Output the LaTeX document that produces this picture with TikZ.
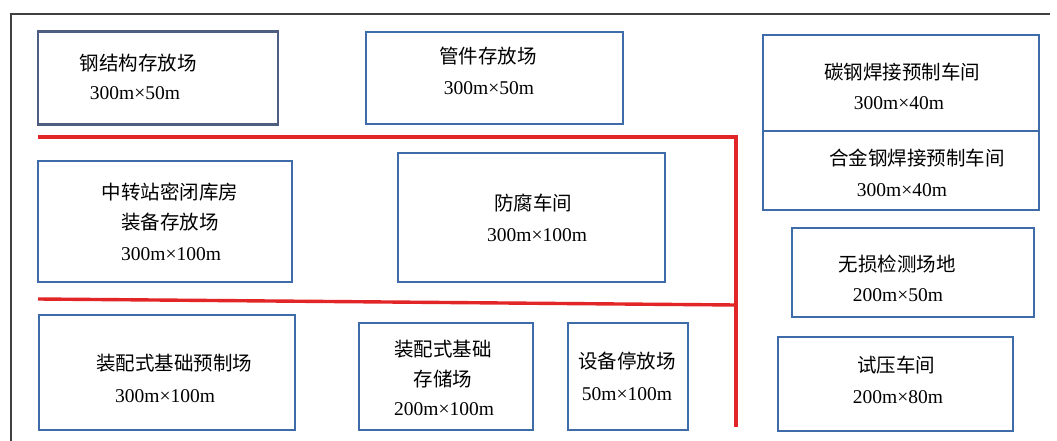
\documentclass[tikz,border=0pt]{standalone}
\usepackage{fontspec}
\setmainfont{Liberation Serif}
\newfontfamily\cjk{Noto Sans CJK SC}
\definecolor{boxblue}{RGB}{62,108,168}
\definecolor{slateblue}{RGB}{78,94,128}
\definecolor{roadred}{RGB}{226,38,40}
\begin{document}
\begin{tikzpicture}[x=1pt,y=-1pt,
  box/.style={draw=boxblue,line width=2.8pt,rectangle,inner sep=0pt},
  lbl/.style={inner sep=0pt,font=\fontsize{19.5}{22}\selectfont},
  zh/.style={inner sep=0pt,font=\fontsize{19.5}{22}\selectfont\cjk},
  road/.style={draw=roadred,line width=3.4pt}]
\useasboundingbox (0,0) rectangle (1057,441);
\fill[white] (0,0) rectangle (1057,441);
% frame
\draw[line width=1.4pt,black!75] (11,441) -- (11,14) -- (1050,14);
% roads
\draw[road] (38,137) -- (736,137) -- (736,427);
\draw[road] (38,299) -- (736,305);
% boxes
\node[box,draw=slateblue,minimum width=240pt,minimum height=93pt] (b1) at (158,78) {};
\node[box,minimum width=257pt,minimum height=92pt] (b2) at (494.5,78) {};
\node[box,minimum width=276pt,minimum height=96pt] (b3) at (901,83) {};
\node[box,minimum width=276pt,minimum height=79pt] (b4) at (901,170.5) {};
\node[box,minimum width=254pt,minimum height=121pt] (b5) at (165,221.5) {};
\node[box,minimum width=267pt,minimum height=129pt] (b6) at (531.5,217.5) {};
\node[box,minimum width=242pt,minimum height=89pt] (b7) at (913,272.5) {};
\node[box,minimum width=235pt,minimum height=94pt] (b8) at (895.5,384) {};
\node[box,minimum width=256pt,minimum height=115pt] (b9) at (167,372.5) {};
\node[box,minimum width=174pt,minimum height=107pt] (b10) at (446,376.5) {};
\node[box,minimum width=120pt,minimum height=107pt] (b11) at (628,376.5) {};
% texts
\node[zh] (t1a) at (138,63) {钢结构存放场};
\node[lbl] (t1b) at (135,93) {300m×50m};
\node[zh] (t2a) at (488,56) {管件存放场};
\node[lbl] (t2b) at (489,88) {300m×50m};
\node[zh] (t3a) at (902,72) {碳钢焊接预制车间};
\node[lbl] (t3b) at (899,103) {300m×40m};
\node[zh] (t4a) at (917,158) {合金钢焊接预制车间};
\node[lbl] (t4b) at (902,190) {300m×40m};
\node[zh] (t5a) at (170,192) {中转站密闭库房};
\node[zh] (t5b) at (170,222) {装备存放场};
\node[lbl] (t5c) at (171,254) {300m×100m};
\node[zh] (t6a) at (533,203) {防腐车间};
\node[lbl] (t6b) at (537,235) {300m×100m};
\node[zh] (t7a) at (897,264) {无损检测场地};
\node[lbl] (t7b) at (898,295) {200m×50m};
\node[zh] (t8a) at (896,365) {试压车间};
\node[lbl] (t8b) at (898,397) {200m×80m};
\node[zh] (t9a) at (174,363) {装配式基础预制场};
\node[lbl] (t9b) at (165,396) {300m×100m};
\node[zh] (t10a) at (443,349) {装配式基础};
\node[zh] (t10b) at (443,379) {存储场};
\node[lbl] (t10c) at (444,409) {200m×100m};
\node[zh] (t11a) at (627,361) {设备停放场};
\node[lbl] (t11b) at (627,394) {50m×100m};
\end{tikzpicture}
\end{document}
